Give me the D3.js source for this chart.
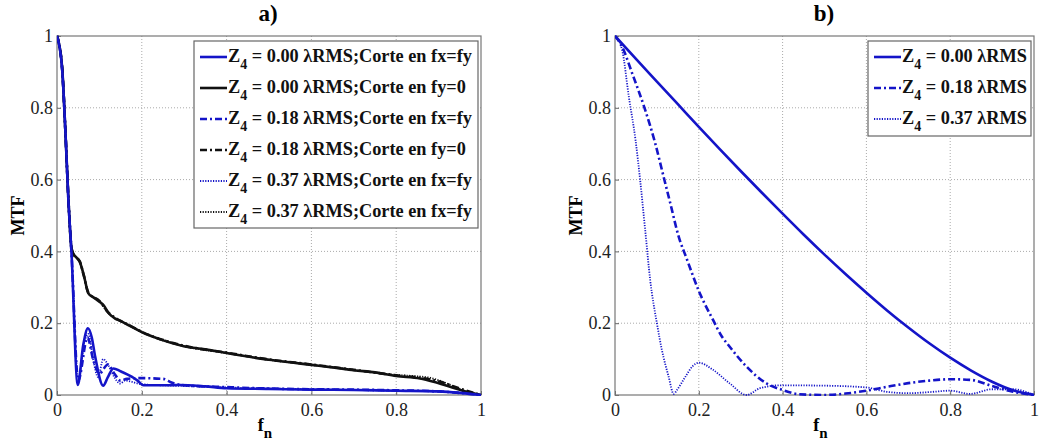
<!DOCTYPE html>
<html>
<head>
<meta charset="utf-8">
<script src="https://cdn.jsdelivr.net/npm/d3@7"></script>
<style>
  body { margin: 0; background: #fff; }
</style>
</head>
<body>
<div id="wrapper"></div>
<script>
// ---- data: [fn, MTF] ----

// a) cuts
const blueSolidA = [[0,1],[0.012,0.91],[0.02,0.73],[0.027,0.54],[0.034,0.40],[0.049,0.028],[0.062,0.14],[0.073,0.186],[0.082,0.16],[0.09,0.107],[0.109,0.026],[0.12,0.05],[0.133,0.074],[0.15,0.066],[0.176,0.051],[0.19,0.04],[0.204,0.027],[0.255,0.027],[0.29,0.028],[0.35,0.024],[0.4,0.019],[0.5,0.017],[0.6,0.015],[0.7,0.014],[0.8,0.012],[0.9,0.01],[0.95,0.006],[1,0]];
const blackSolidA = [[0,1],[0.012,0.914],[0.02,0.728],[0.027,0.543],[0.034,0.41],[0.039,0.392],[0.045,0.384],[0.054,0.37],[0.063,0.335],[0.074,0.283],[0.086,0.272],[0.1,0.26],[0.11,0.25],[0.121,0.229],[0.137,0.213],[0.15,0.206],[0.168,0.195],[0.2,0.175],[0.243,0.155],[0.299,0.136],[0.35,0.127],[0.4,0.117],[0.45,0.107],[0.5,0.098],[0.55,0.091],[0.6,0.084],[0.65,0.077],[0.7,0.069],[0.75,0.063],[0.8,0.053],[0.856,0.046],[0.888,0.037],[0.927,0.023],[0.966,0.009],[1,0]];
const blueDashA = [[0,1],[0.012,0.91],[0.02,0.73],[0.027,0.54],[0.034,0.40],[0.05,0.04],[0.072,0.16],[0.085,0.1],[0.1,0.06],[0.12,0.085],[0.135,0.06],[0.15,0.04],[0.165,0.045],[0.2,0.047],[0.25,0.045],[0.27,0.035],[0.3,0.027],[0.4,0.022],[0.5,0.018],[0.6,0.016],[0.7,0.015],[0.8,0.013],[0.9,0.01],[1,0]];
const blackDashA = [[0,1],[0.012,0.912],[0.02,0.73],[0.027,0.545],[0.034,0.41],[0.04,0.39],[0.054,0.372],[0.063,0.333],[0.074,0.285],[0.1,0.262],[0.121,0.23],[0.137,0.215],[0.168,0.196],[0.2,0.176],[0.25,0.153],[0.3,0.137],[0.4,0.118],[0.5,0.099],[0.6,0.085],[0.7,0.07],[0.8,0.055],[0.856,0.048],[0.9,0.038],[0.95,0.018],[1,0]];
const blueDotA = [[0,1],[0.012,0.91],[0.02,0.73],[0.027,0.54],[0.034,0.40],[0.05,0.045],[0.065,0.15],[0.074,0.17],[0.085,0.1],[0.097,0.05],[0.109,0.1],[0.12,0.085],[0.135,0.05],[0.149,0.032],[0.16,0.04],[0.2,0.03],[0.3,0.025],[0.4,0.021],[0.5,0.018],[0.6,0.016],[0.7,0.014],[0.8,0.012],[0.9,0.01],[1,0]];
const blackDotA = [[0,1],[0.012,0.915],[0.02,0.73],[0.027,0.543],[0.034,0.41],[0.04,0.392],[0.054,0.37],[0.063,0.335],[0.074,0.284],[0.1,0.261],[0.121,0.228],[0.137,0.214],[0.168,0.195],[0.2,0.175],[0.25,0.154],[0.3,0.136],[0.4,0.117],[0.5,0.098],[0.6,0.084],[0.7,0.07],[0.8,0.056],[0.85,0.052],[0.88,0.048],[0.92,0.032],[0.96,0.012],[1,0]];

// b) radial average
const solidB = [[0,1],[0.05,0.936],[0.1,0.873],[0.15,0.81],[0.2,0.747],[0.25,0.685],[0.3,0.624],[0.35,0.564],[0.4,0.505],[0.45,0.447],[0.5,0.391],[0.55,0.337],[0.6,0.285],[0.65,0.235],[0.7,0.188],[0.75,0.144],[0.8,0.104],[0.85,0.068],[0.9,0.037],[0.95,0.013],[1,0]];
const dashB = [[0,1],[0.017,0.97],[0.041,0.896],[0.072,0.794],[0.096,0.701],[0.116,0.608],[0.132,0.534],[0.152,0.441],[0.171,0.38],[0.2,0.29],[0.234,0.209],[0.255,0.163],[0.27,0.14],[0.314,0.079],[0.362,0.032],[0.4,0.014],[0.44,0.002],[0.5,0],[0.55,0.004],[0.6,0.012],[0.65,0.023],[0.7,0.033],[0.75,0.04],[0.8,0.044],[0.85,0.042],[0.9,0.025],[0.95,0.009],[1,0]];
const dotB = [[0,1],[0.017,0.961],[0.033,0.831],[0.049,0.71],[0.06,0.599],[0.072,0.46],[0.084,0.32],[0.1,0.2],[0.112,0.125],[0.128,0.051],[0.14,0.003],[0.148,0.014],[0.168,0.051],[0.185,0.08],[0.2,0.09],[0.234,0.07],[0.274,0.032],[0.314,0],[0.346,0.019],[0.394,0.027],[0.5,0.026],[0.6,0.021],[0.648,0.009],[0.7,0.005],[0.75,0.008],[0.8,0.012],[0.847,0.003],[0.9,0.016],[0.95,0.016],[1,0]];

const tickValues = [0, 0.2, 0.4, 0.6, 0.8, 1];
const tickLabels = ["0", "0.2", "0.4", "0.6", "0.8", "1"];

const labelsA = [
  "0.00 λRMS;Corte en fx=fy", "0.00 λRMS;Corte en fy=0",
  "0.18 λRMS;Corte en fx=fy", "0.18 λRMS;Corte en fy=0",
  "0.37 λRMS;Corte en fx=fy", "0.37 λRMS;Corte en fx=fy",
];
const labelsB = ["0.00 λRMS", "0.18 λRMS", "0.37 λRMS"];

const BLUE = "#1414c8";
const BLACK = "#111";
const FONT = "'Liberation Serif', 'Times New Roman', Times, 'DejaVu Serif', serif";

const styles = {
  solid: { dash: null, width: 2.6 },
  dashdot: { dash: "7,3,2,3", width: 2.6 },
  dot: { dash: "1.2,1.4", width: 1.8 },
};

const seriesA = [
  { data: blueSolidA, color: BLUE, style: "solid", label: labelsA[0] },
  { data: blackSolidA, color: BLACK, style: "solid", label: labelsA[1] },
  { data: blueDashA, color: BLUE, style: "dashdot", label: labelsA[2] },
  { data: blackDashA, color: BLACK, style: "dashdot", label: labelsA[3] },
  { data: blueDotA, color: BLUE, style: "dot", label: labelsA[4] },
  { data: blackDotA, color: BLACK, style: "dot", label: labelsA[5] },
];
const seriesB = [
  { data: solidB, color: BLUE, style: "solid", label: labelsB[0] },
  { data: dashB, color: BLUE, style: "dashdot", label: labelsB[1] },
  { data: dotB, color: BLUE, style: "dot", label: labelsB[2] },
];

// ---- layout ----
const svg = d3.select("#wrapper").append("svg")
    .attr("width", 1047)
    .attr("height", 448)
    .attr("font-family", FONT);

function drawPanel(cfg) {
  const x = d3.scaleLinear().domain([0, 1]).range([cfg.left, cfg.right]);
  const y = d3.scaleLinear().domain([0, 1]).range([cfg.bottom, cfg.top]);
  const g = svg.append("g");

  // grid
  g.append("g").selectAll("line")
    .data(tickValues.slice(1, -1))
    .join("line")
      .attr("x1", d => x(d)).attr("x2", d => x(d))
      .attr("y1", cfg.top).attr("y2", cfg.bottom)
      .attr("stroke", "#aaa").attr("stroke-width", 1)
      .attr("stroke-dasharray", "1,2");
  g.append("g").selectAll("line")
    .data(tickValues.slice(1, -1))
    .join("line")
      .attr("y1", d => y(d)).attr("y2", d => y(d))
      .attr("x1", cfg.left).attr("x2", cfg.right)
      .attr("stroke", "#aaa").attr("stroke-width", 1)
      .attr("stroke-dasharray", "1,2");

  // axes
  const xAxis = d3.axisBottom(x).tickValues(tickValues)
      .tickFormat((d, i) => tickLabels[i]).tickSizeInner(-4).tickSizeOuter(0).tickPadding(8);
  const yAxis = d3.axisLeft(y).tickValues(tickValues)
      .tickFormat((d, i) => tickLabels[i]).tickSizeInner(-4).tickSizeOuter(0).tickPadding(4);

  const gx = g.append("g").attr("transform", `translate(0,${cfg.bottom})`).call(xAxis);
  const gy = g.append("g").attr("transform", `translate(${cfg.left},0)`).call(yAxis);
  [gx, gy].forEach(a => {
    a.attr("font-family", FONT).attr("font-size", 18);
    a.select(".domain").remove();
    a.selectAll(".tick line").attr("stroke", "#666");
    a.selectAll("text").attr("fill", "#222");
  });
  gx.selectAll("text").attr("dy", "0.71em");

  // box
  g.append("rect")
      .attr("x", cfg.left).attr("y", cfg.top)
      .attr("width", cfg.right - cfg.left).attr("height", cfg.bottom - cfg.top)
      .attr("fill", "none").attr("stroke", "#777").attr("stroke-width", 1.2);

  // curves
  const line = d3.line()
      .x(d => x(d[0]))
      .y(d => y(d[1]))
      .curve(d3.curveMonotoneX);

  const clipId = "clip" + cfg.name;
  svg.append("clipPath").attr("id", clipId)
    .append("rect")
      .attr("x", cfg.left).attr("y", cfg.top - 3)
      .attr("width", cfg.right - cfg.left + 2).attr("height", cfg.bottom - cfg.top + 4);

  const curves = g.append("g").attr("clip-path", `url(#${clipId})`);
  cfg.series.slice().reverse().forEach(s => {
    curves.append("path")
        .attr("d", line(s.data))
        .attr("fill", "none")
        .attr("stroke", s.color)
        .attr("stroke-width", styles[s.style].width)
        .attr("stroke-dasharray", styles[s.style].dash)
        .attr("stroke-linejoin", "round");
  });

  // title
  g.append("text")
      .attr("x", cfg.titleX).attr("y", 21)
      .attr("text-anchor", "middle")
      .attr("font-weight", "bold")
      .attr("font-size", 23)
      .text(cfg.title);

  // axis labels
  g.append("text")
      .attr("transform", `translate(${cfg.left - 33},${(cfg.top + cfg.bottom) / 2}) rotate(-90)`)
      .attr("text-anchor", "middle")
      .attr("font-weight", "bold")
      .attr("font-size", 18)
      .text("MTF");

  const fl = g.append("text")
      .attr("x", (cfg.left + cfg.right) / 2 - 4).attr("y", 431)
      .attr("text-anchor", "middle")
      .attr("font-weight", "bold")
      .attr("font-size", 18);
  fl.append("tspan").text("f");
  fl.append("tspan").attr("dy", 7).attr("font-size", 15).text("n");

  // legend
  const lg = g.append("g");
  lg.append("rect")
      .attr("x", cfg.legend.x).attr("y", cfg.legend.y)
      .attr("width", cfg.legend.w).attr("height", cfg.legend.h)
      .attr("fill", "#fff").attr("stroke", "#666").attr("stroke-width", 1.2);

  cfg.series.forEach((s, i) => {
    const cy = cfg.legend.y + 16 + i * 31;
    const lx = cfg.legend.x + 6;
    lg.append("line")
        .attr("x1", lx).attr("x2", lx + 27)
        .attr("y1", cy).attr("y2", cy)
        .attr("stroke", s.color)
        .attr("stroke-width", styles[s.style].width)
        .attr("stroke-dasharray", styles[s.style].dash);
    const t = lg.append("text")
        .attr("x", lx + 28).attr("y", cy + 5)
        .attr("font-weight", "bold")
        .attr("font-size", 18.3)
        .attr("fill", "#111");
    t.append("tspan").text("Z");
    t.append("tspan").attr("dy", 7).attr("font-size", 14).text("4");
    t.append("tspan").attr("dy", -7).text(" = " + s.label);
  });
}

drawPanel({
  name: "a", title: "a)", titleX: 268,
  left: 57, right: 481, top: 36, bottom: 395,
  series: seriesA,
  legend: { x: 194, y: 41, w: 284, h: 187 },
});

drawPanel({
  name: "b", title: "b)", titleX: 824,
  left: 615, right: 1034, top: 36, bottom: 395,
  series: seriesB,
  legend: { x: 868, y: 41, w: 163, h: 95 },
});
</script>
</body>
</html>
